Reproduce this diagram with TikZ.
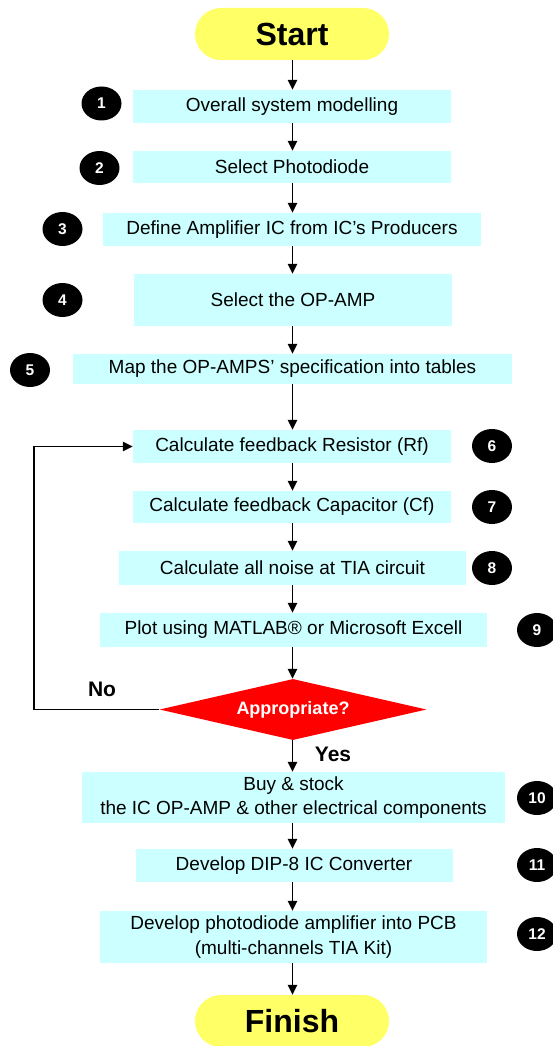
\documentclass[tikz,border=0pt]{standalone}
\usepackage{fontspec}
\setmainfont{Liberation Sans}
\usetikzlibrary{shapes.geometric,shapes.misc,arrows.meta}
\definecolor{boxcyan}{RGB}{204,255,255}
\definecolor{termyellow}{RGB}{255,255,102}
\definecolor{decred}{RGB}{255,0,0}
\tikzset{
  stepbox/.style={fill=boxcyan, inner sep=0pt, align=center,
    font=\fontsize{19}{24.5}\selectfont},
  numbadge/.style={ellipse, fill=black, text=white, inner sep=0pt,
    minimum width=40pt, minimum height=34pt, font=\fontsize{15.5}{17}\selectfont\bfseries},
  termnode/.style={rounded rectangle, fill=termyellow, inner sep=0pt,
    minimum width=194pt, minimum height=52pt, font=\fontsize{32}{36}\selectfont\bfseries},
  decnode/.style={diamond, fill=decred, text=white, inner sep=0pt, aspect=4.38,
    minimum width=267pt, minimum height=61pt, font=\fontsize{18}{20}\selectfont\bfseries},
  yesno/.style={font=\fontsize{21}{24}\selectfont\bfseries, inner sep=0pt},
  conn/.style={line width=1.5pt, -{Triangle[length=10pt,width=9.5pt]}},
}
\begin{document}
\begin{tikzpicture}[x=1pt,y=-1pt]
\useasboundingbox (0,0) rectangle (553,1046);
% terminals and steps
\node[termnode] (start) at (292,34) {Start};
\node[stepbox, minimum width=318pt, minimum height=33pt] (b1) at (292,106.5) {Overall system modelling};
\node[stepbox, minimum width=318pt, minimum height=32pt] (b2) at (292,167) {Select Photodiode};
\node[stepbox, minimum width=378pt, minimum height=33pt] (b3) at (292,229.5) {Define Amplifier IC from IC’s Producers};
\node[stepbox, minimum width=318pt, minimum height=52pt] (b4) at (293,300) {Select the OP-AMP};
\node[stepbox, minimum width=439pt, minimum height=30pt] (b5) at (292.5,369) {Map the OP-AMPS’ specification into tables};
\node[stepbox, minimum width=318pt, minimum height=33pt] (b6) at (292,446.5) {Calculate feedback Resistor (Rf)};
\node[stepbox, minimum width=318pt, minimum height=32pt] (b7) at (292,507) {Calculate feedback Capacitor (Cf)};
\node[stepbox, minimum width=347pt, minimum height=34pt] (b8) at (292.5,568) {Calculate all noise at TIA circuit};
\node[stepbox, minimum width=387pt, minimum height=34pt] (b9) at (293.5,630) {Plot using MATLAB® or Microsoft Excell};
\node[decnode] (dec) at (293,709.5) {Appropriate?};
\node[stepbox, minimum width=423pt, minimum height=51pt] (b10) at (293.5,797.5) {Buy \& stock\\the IC OP-AMP \& other electrical components};
\node[stepbox, minimum width=317pt, minimum height=33pt] (b11) at (294,865.5) {Develop DIP-8 IC Converter};
\node[stepbox, minimum width=387pt, minimum height=52pt] (b12) at (293.5,937) {Develop photodiode amplifier into PCB\\(multi-channels TIA Kit)};
\node[termnode] (finish) at (292,1021) {Finish};
% number badges
\node[numbadge] (c1) at (101.5,103.5) {1};
\node[numbadge] (c2) at (99.5,168) {2};
\node[numbadge] (c3) at (62.5,229) {3};
\node[numbadge] (c4) at (62.5,300) {4};
\node[numbadge] (c5) at (30,370) {5};
\node[numbadge] (c6) at (492,446) {6};
\node[numbadge] (c7) at (492,507) {7};
\node[numbadge] (c8) at (492,568) {8};
\node[numbadge] (c9) at (537,630) {9};
\node[numbadge] (c10) at (537,798) {10};
\node[numbadge] (c11) at (537,865) {11};
\node[numbadge] (c12) at (537,934) {12};
% labels
\node[yesno] (no) at (102,689) {No};
\node[yesno] (yes) at (333,754) {Yes};
% connectors
\coordinate (ax) at (292.5,0);
\draw[conn] (start.south -| ax) -- (b1.north -| ax);
\draw[conn] (b1.south -| ax) -- (b2.north -| ax);
\draw[conn] (b2.south -| ax) -- (b3.north -| ax);
\draw[conn] (b3.south -| ax) -- (b4.north -| ax);
\draw[conn] (b4.south -| ax) -- (b5.north -| ax);
\draw[conn] (b5.south -| ax) -- (b6.north -| ax);
\draw[conn] (b6.south -| ax) -- (b7.north -| ax);
\draw[conn] (b7.south -| ax) -- (b8.north -| ax);
\draw[conn] (b8.south -| ax) -- (b9.north -| ax);
\draw[conn] (b9.south -| ax) -- (dec.north -| ax);
\draw[conn] (dec.south -| ax) -- (b10.north -| ax);
\draw[conn] (b10.south -| ax) -- (b11.north -| ax);
\draw[conn] (b11.south -| ax) -- (b12.north -| ax);
\draw[conn] (b12.south -| ax) -- (finish.north -| ax);
\coordinate (loopc) at (34,709.5);
\draw[conn] (dec.west) -- (loopc) |- (b6.west);
\end{tikzpicture}
\end{document}
